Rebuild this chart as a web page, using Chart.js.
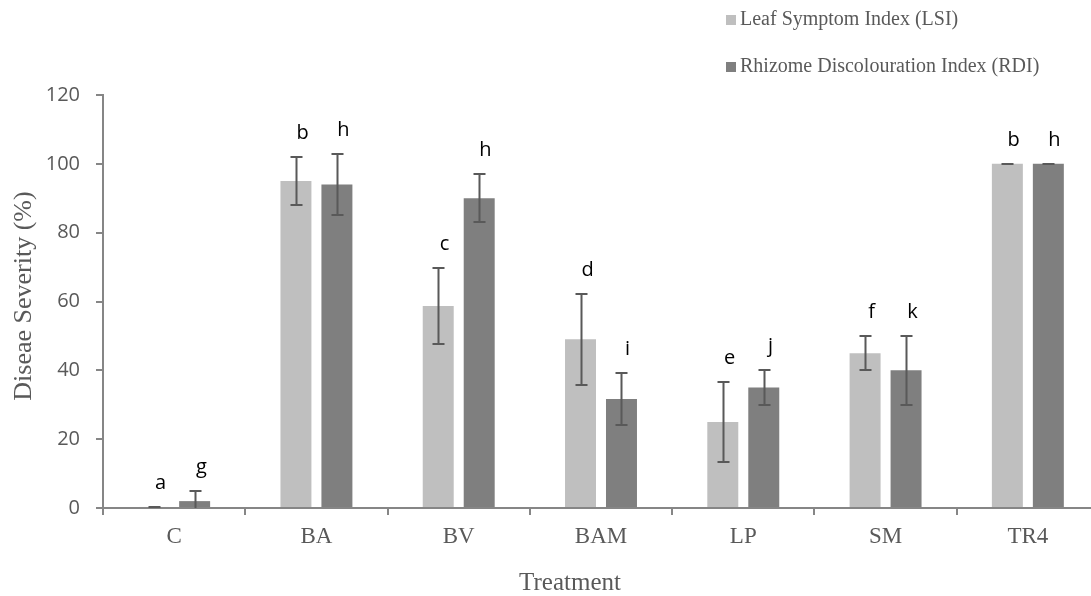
<!DOCTYPE html>
<html><head><meta charset="utf-8">
<script src="https://cdn.jsdelivr.net/npm/chart.js@4"></script>
<style>
html,body{margin:0;padding:0;background:#fff;overflow:hidden;width:1091px;height:596px}
#wrap{position:relative;width:1099px;height:596px}
canvas{display:block}
</style></head><body>
<div id="wrap"><canvas id="c" width="1099" height="596"></canvas></div>
<script>
const categories = ['C','BA','BV','BAM','LP','SM','TR4'];
const lsiValues = [0.3, 95, 58.7, 49, 25, 45, 100];
const lsiErrors = [0, 7, 11, 13.2, 11.7, 5, 0];
const rdiValues = [2, 94, 90, 31.7, 35, 40, 100];
const rdiErrors = [3, 9, 7, 7.6, 5, 10, 0];
const lsiLetters = ['a','b','c','d','e','f','b'];
const rdiLetters = ['g','h','h','i','j','k','h'];
const yTickValues = [0, 20, 40, 60, 80, 100, 120];
const seriesNames = ['Leaf Symptom Index (LSI)', 'Rhizome Discolouration Index (RDI)'];
const xTitle = 'Treatment';
const yTitle = 'Diseae Severity (%)';

const SERIF = '"Liberation Serif", "Times New Roman", serif';
const SANS = '"Open Sans", "Noto Sans", sans-serif';
const AXIS_GREY = '#868686';
const TEXT_GREY = '#595959';

const overlay = {
  id: 'overlay',
  afterDatasetsDraw(chart) {
    const ctx = chart.ctx;
    const ys = chart.scales.y;
    const errs = [lsiErrors, rdiErrors];
    const letters = [lsiLetters, rdiLetters];
    chart.data.datasets.forEach((ds, i) => {
      const meta = chart.getDatasetMeta(i);
      meta.data.forEach((bar, j) => {
        const v = ds.data[j], e = errs[i][j];
        const x = Math.round(bar.x) + 0.5;
        const yTop = Math.round(ys.getPixelForValue(v + e));
        const yBot = Math.round(ys.getPixelForValue(Math.max(0, v - e)));
        ctx.save();
        ctx.strokeStyle = TEXT_GREY;
        ctx.lineWidth = 2;
        ctx.beginPath();
        ctx.moveTo(x, yTop); ctx.lineTo(x, yBot);
        ctx.moveTo(x - 6, yTop); ctx.lineTo(x + 6, yTop);
        if (v - e > 0) { ctx.moveTo(x - 6, yBot); ctx.lineTo(x + 6, yBot); }
        ctx.stroke();
        ctx.fillStyle = '#000';
        ctx.font = '20px ' + SANS;
        ctx.textAlign = 'center';
        ctx.textBaseline = 'middle';
        ctx.fillText(letters[i][j], x + 6, yTop - 24);
        ctx.restore();
      });
    });
  },
  afterDraw(chart) {
    const ctx = chart.ctx;
    const rows = [20, 67];
    ctx.save();
    chart.data.datasets.forEach((ds, i) => {
      const cy = rows[i];
      ctx.fillStyle = ds.backgroundColor;
      ctx.fillRect(726, cy - 5, 10, 10);
      ctx.fillStyle = TEXT_GREY;
      ctx.font = '20px ' + SERIF;
      ctx.textAlign = 'left';
      ctx.textBaseline = 'middle';
      ctx.fillText(ds.label, 740, cy);
    });
    // axis titles
    ctx.fillStyle = TEXT_GREY;
    ctx.font = '25px ' + SERIF;
    ctx.textAlign = 'center';
    ctx.textBaseline = 'middle';
    ctx.fillText(xTitle, 570, 583);
    ctx.translate(24, 296);
    ctx.rotate(-Math.PI / 2);
    ctx.font = '26px ' + SERIF;
    ctx.fillText(yTitle, 0, 0);
    ctx.restore();
  }
};

new Chart(document.getElementById('c'), {
  type: 'bar',
  data: {
    labels: categories,
    datasets: [
      { label: seriesNames[0], data: lsiValues, backgroundColor: '#bfbfbf' },
      { label: seriesNames[1], data: rdiValues, backgroundColor: '#7f7f7f' }
    ]
  },
  options: {
    responsive: false,
    animation: false,
    devicePixelRatio: 1,
    categoryPercentage: 0.576,
    barPercentage: 0.756,
    layout: { padding: { top: 95, right: 0, bottom: 0, left: 0 } },
    plugins: { legend: { display: false }, tooltip: { enabled: false } },
    scales: {
      x: {
        grid: { display: true, drawOnChartArea: false, drawTicks: true, tickLength: 7, color: AXIS_GREY, lineWidth: 2, offset: true },
        border: { display: true, color: AXIS_GREY, width: 2 },
        ticks: { color: TEXT_GREY, font: { family: SERIF, size: 23 }, padding: 8, maxRotation: 0 },
        title: { display: false },
        afterFit(scale) { scale.height = 88; }
      },
      y: {
        min: 0, max: 120,
        afterBuildTicks(scale) { scale.ticks = yTickValues.map(v => ({ value: v })); },
        grid: { display: true, drawOnChartArea: false, drawTicks: true, tickLength: 7, color: AXIS_GREY, lineWidth: 2 },
        border: { display: true, color: AXIS_GREY, width: 2 },
        ticks: { color: TEXT_GREY, font: { family: SANS, size: 20 }, padding: 16 },
        title: { display: false },
        afterFit(scale) { scale.width = 103; }
      }
    }
  },
  plugins: [overlay]
});
</script>
</body></html>
